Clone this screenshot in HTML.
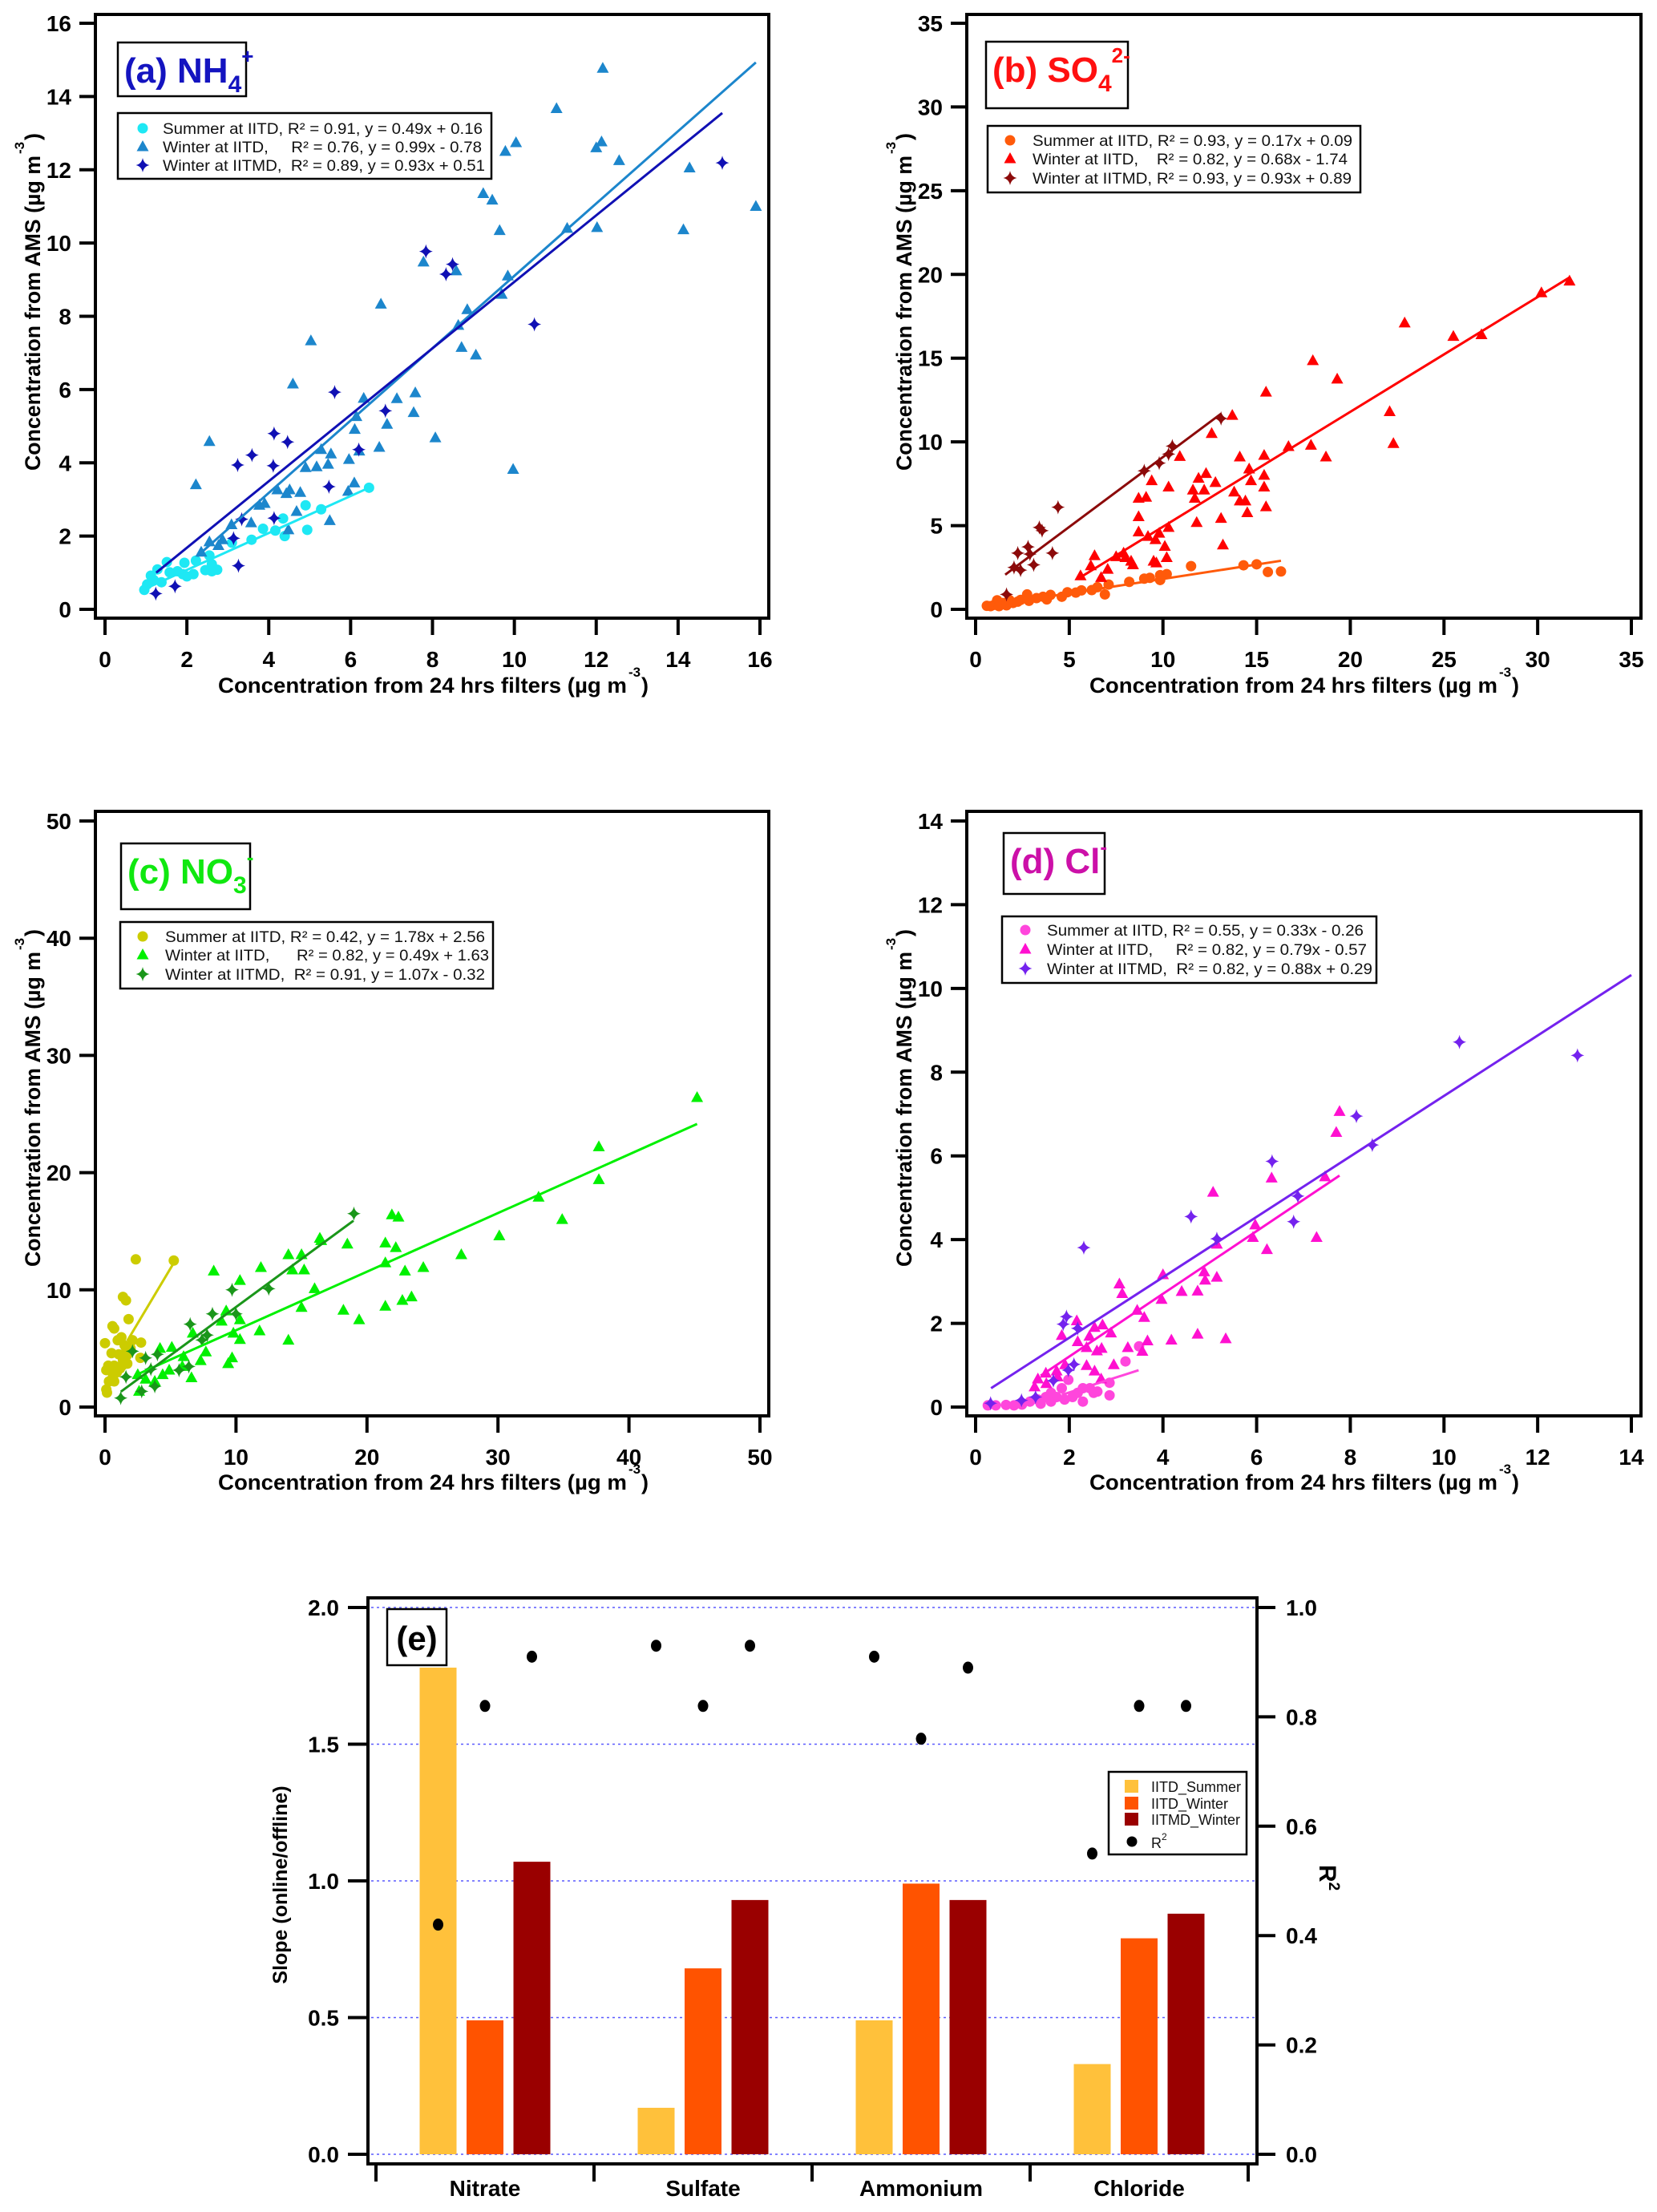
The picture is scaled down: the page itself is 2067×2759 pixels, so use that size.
<!DOCTYPE html>
<html><head><meta charset="utf-8"><title>AMS vs filter comparison</title>
<style>
html,body{margin:0;padding:0;background:#fff;}
svg{display:block;font-family:"Liberation Sans",Arial,sans-serif;}
</style></head>
<body>
<svg id="fig" width="2067" height="2759" viewBox="0 0 2067 2759" xmlns="http://www.w3.org/2000/svg">
<rect x="0" y="0" width="2067" height="2759" fill="#fff"/>
</svg>
<script>
// ---------- Panel (a) NH4 data ----------
const nh4SumX=[6.45,5.28,4.9,4.94,4.35,4.39,4.16,3.86,3.58,3.1,2.74,2.61,2.55,2.22,2.16,1.94,1.9,1.77,1.58,1.51,1.28,1.19,1.12,1.03,0.96,1.38,2.0,2.45,2.61];
const nh4SumY=[3.32,2.73,2.84,2.17,2.48,2.0,2.15,2.2,1.9,1.82,1.08,1.23,1.47,1.33,0.96,1.27,0.96,1.04,1.01,1.29,1.09,0.8,0.92,0.68,0.53,0.74,0.9,1.07,1.04];
const nh4WinX=[12.16,11.03,15.9,12.56,12.13,12.0,10.04,9.78,14.28,14.13,12.02,11.29,9.24,9.46,9.64,9.84,9.69,7.78,8.58,8.85,8.63,8.71,9.06,9.97,6.74,5.03,4.59,7.58,7.13,6.32,7.54,6.14,6.10,6.89,8.07,6.70,6.21,5.28,5.52,5.96,5.17,5.45,4.9,2.55,2.22,6.09,5.94,4.51,4.21,4.43,4.77,3.9,3.77,4.68,5.49,3.57,3.09,4.48,2.87,2.55,2.77,2.35];
const nh4WinY=[14.77,13.67,11.0,12.25,12.76,12.6,12.74,12.5,12.05,10.36,10.42,10.4,11.35,11.17,10.34,9.1,8.6,9.48,9.24,8.18,7.75,7.15,6.94,3.82,8.33,7.33,6.15,5.91,5.75,5.76,5.37,5.26,4.91,5.05,4.68,4.42,4.32,4.36,4.24,4.09,3.89,3.96,3.87,4.58,3.4,3.45,3.22,3.26,3.26,3.16,3.19,2.89,2.84,2.67,2.42,2.36,2.31,2.17,1.9,1.84,1.74,1.56];
const nh4MdX=[15.08,7.84,8.33,8.49,10.49,5.61,6.85,6.2,4.13,4.46,3.59,3.24,4.11,5.47,3.34,4.13,3.14,3.26,1.71,1.24];
const nh4MdY=[12.19,9.77,9.15,9.42,7.78,5.93,5.42,4.36,4.8,4.57,4.21,3.94,3.92,3.35,2.46,2.49,1.94,1.19,0.63,0.43];
const nh4FitX0=[0.96,2.25,1.25];
const nh4FitY0=[0.55,1.45,1.0];
const nh4FitX1=[6.45,15.9,15.08];
const nh4FitY1=[3.32,14.93,13.55];

// ---------- Panel (b) SO4 data ----------
const so4SumX=[16.3,15.6,15.0,14.3,11.5,10.2,9.85,9.85,9.3,9.0,8.2,7.1,6.9,6.5,6.2,5.65,5.35,4.9,4.6,4.0,3.8,3.6,3.25,2.75,2.85,2.4,2.25,2.0,1.8,1.45,1.15,1.0,0.8,0.6,1.25,1.65];
const so4SumY=[2.26,2.23,2.69,2.63,2.58,2.1,2.04,1.75,1.88,1.83,1.64,1.48,0.89,1.32,1.15,1.13,1.0,1.02,0.75,0.86,0.59,0.75,0.67,0.89,0.51,0.56,0.46,0.38,0.56,0.38,0.54,0.27,0.19,0.21,0.19,0.24];
const so4WinX=[31.7,30.2,22.9,25.5,27.0,18.0,19.3,15.5,22.1,22.3,16.7,17.9,18.7,13.7,12.6,10.9,14.1,15.4,14.6,15.4,12.3,11.9,12.8,11.6,12.2,14.7,15.4,10.3,9.4,11.7,13.8,14.1,14.4,8.7,9.1,15.5,14.5,13.1,8.7,11.8,10.3,8.7,9.8,9.2,9.6,10.1,13.2,7.9,7.5,6.35,8.0,8.3,8.4,9.5,10.2,9.65,6.15,7.05,6.7,5.6];
const so4WinY=[19.6,18.9,17.1,16.3,16.4,14.85,13.75,12.97,11.8,9.9,9.72,9.8,9.1,11.58,10.5,9.13,9.1,9.19,8.38,8.0,8.11,7.82,7.57,7.12,7.12,7.68,7.3,7.3,7.68,6.63,7.0,6.47,6.47,6.63,6.69,6.12,5.77,5.43,5.53,5.18,4.89,4.62,4.54,4.35,4.16,3.76,3.84,3.36,3.14,3.2,3.09,2.87,2.66,2.87,3.09,2.77,2.6,2.39,1.9,2.0];
const so4MdX=[13.1,10.5,10.3,9.8,9.0,4.4,3.4,3.55,2.8,2.9,2.25,4.1,3.1,2.05,2.4,1.65];
const so4MdY=[11.4,9.75,9.27,8.73,8.27,6.1,4.89,4.7,3.73,3.3,3.36,3.36,2.66,2.5,2.34,0.89];
const so4FitX0=[0.56,5.62,1.58];
const so4FitY0=[0.19,1.93,2.07];
const so4FitX1=[16.3,31.7,13.1];
const so4FitY1=[2.9,19.82,11.68];

// ---------- Panel (c) NO3 data ----------
const no3SumX=[2.35,5.25,1.37,1.6,1.8,0.57,0.7,0.0,1.25,0.97,2.1,2.75,0.5,1.05,1.7,1.5,1.37,2.7,0.25,0.7,1.3,1.7,0.1,0.5,0.9,1.15,0.6,0.3,0.7,0.1,0.15,1.6,1.95];
const no3SumY=[12.6,12.5,9.4,9.1,7.5,6.9,6.7,5.45,5.95,5.7,5.7,5.5,4.6,4.5,4.45,5.26,4.0,4.2,3.53,3.53,3.53,3.7,3.15,3.07,2.96,3.3,2.57,2.19,2.19,1.5,1.23,4.7,5.0];
const no3WinX=[45.2,37.7,37.7,33.1,34.9,30.1,27.2,21.9,22.4,21.4,22.2,21.4,22.9,24.3,23.4,22.7,21.4,19.4,18.2,18.5,16.4,16.5,14.0,15.0,14.3,15.2,16.0,15.0,11.9,8.3,10.3,10.3,10.3,11.8,14.0,9.8,8.9,9.25,9.7,9.4,7.7,7.3,6.7,6.6,6.0,5.1,5.9,4.9,4.2,4.4,3.8,3.1,2.6,2.5];
const no3WinY=[26.4,22.2,19.4,17.9,16.0,14.6,13.0,16.4,16.2,14.0,13.6,12.3,11.6,11.9,9.4,9.1,8.6,7.45,8.26,13.9,14.4,14.2,13.0,13.0,11.7,11.7,10.1,8.5,11.9,11.6,10.8,7.45,5.76,6.5,5.7,6.3,7.33,8.2,4.2,3.7,4.7,3.96,6.3,2.5,4.3,5.1,3.46,3.15,5.0,2.76,2.19,2.38,1.34,2.76];
const no3MdX=[19.0,12.5,9.7,10.0,8.2,6.5,7.8,7.4,6.4,5.65,4.0,3.1,3.5,2.1,1.6,3.8,2.8,1.2];
const no3MdY=[16.5,10.1,10.0,7.95,7.95,7.07,6.14,5.72,3.46,3.15,4.5,4.19,3.23,4.76,2.57,1.77,1.34,0.77];
const no3FitX0=[1.7,2.42,1.21];
const no3FitY0=[5.65,2.76,1.31];
const no3FitX1=[5.25,45.2,18.97];
const no3FitY1=[12.3,24.15,15.9];

// ---------- Panel (d) Cl data ----------
const clSumX=[3.2,3.49,2.86,2.86,2.6,2.44,2.29,2.18,2.07,1.98,1.84,1.73,1.61,1.5,1.39,1.33,1.16,0.99,0.82,0.65,0.43,0.26,2.29,2.52,1.61,1.9];
const clSumY=[1.09,1.45,0.58,0.28,0.37,0.45,0.13,0.34,0.24,0.65,0.45,0.24,0.13,0.24,0.08,0.18,0.13,0.06,0.04,0.05,0.04,0.04,0.45,0.34,0.34,0.18];
const clWinX=[7.77,7.7,7.46,6.32,5.07,5.97,5.92,6.22,7.28,5.15,4.0,4.88,4.9,5.15,3.07,3.13,4.4,4.74,3.97,3.45,3.6,2.71,2.54,2.89,2.16,4.74,5.34,4.18,3.67,1.84,2.18,2.43,2.69,2.59,2.37,3.25,3.56,2.95,2.54,1.91,1.73,1.5,1.33,1.26,1.51,2.68,1.75,2.37];
const clWinY=[7.06,6.56,5.5,5.47,5.13,4.35,4.05,3.76,4.05,3.89,3.16,3.23,3.03,3.1,2.94,2.71,2.76,2.77,2.57,2.31,2.14,1.96,1.9,1.77,2.06,1.74,1.63,1.6,1.58,1.71,1.56,1.69,1.4,1.34,1.42,1.42,1.33,1.01,0.86,1.01,0.86,0.81,0.67,0.48,0.56,0.67,0.72,0.99];
const clMdX=[10.33,12.85,8.13,8.47,6.33,6.88,6.79,4.6,5.15,2.31,1.94,1.87,2.18,2.1,1.98,1.66,1.28,0.98,0.32];
const clMdY=[8.72,8.4,6.95,6.26,5.87,5.04,4.43,4.55,4.02,3.81,2.16,1.98,1.88,1.02,0.88,0.63,0.24,0.16,0.09];
const clFitX0=[1.84,1.39,0.33];
const clFitY0=[0.29,0.75,0.45];
const clFitX1=[3.48,7.77,14.0];
const clFitY1=[0.88,5.53,10.32];

// ---------- Panel (e) data ----------
const ionCategories=['Nitrate','Sulfate','Ammonium','Chloride'];
const slopeSummer=[1.78,0.17,0.49,0.33];
const slopeWinter=[0.49,0.68,0.99,0.79];
const slopeMdWinter=[1.07,0.93,0.93,0.88];
const r2Summer=[0.42,0.93,0.91,0.55];
const r2Winter=[0.82,0.82,0.76,0.82];
const r2MdWinter=[0.91,0.93,0.89,0.82];
const slopeTicks=['0.0','0.5','1.0','1.5','2.0'];
const r2Ticks=['0.0','0.2','0.4','0.6','0.8','1.0'];

const NS='http://www.w3.org/2000/svg';
const svg=document.getElementById('fig');
function mk(tag,attrs,parent){const e=document.createElementNS(NS,tag);for(const k in attrs)e.setAttribute(k,attrs[k]);(parent||svg).appendChild(e);return e;}
function marker(shape,cx,cy,color,parent){
  let el;
  if(shape==='circle'){el=mk('circle',{cx:cx,cy:cy,r:6.5,fill:color},parent);}
  else if(shape==='tri'){el=mk('polygon',{points:(cx)+','+(cy-8)+' '+(cx+7.5)+','+(cy+5.5)+' '+(cx-7.5)+','+(cy+5.5),fill:color},parent);}
  else {el=mk('path',{d:'M'+cx+','+(cy-9)+' Q'+(cx+1.5)+','+(cy-1.5)+' '+(cx+8.5)+','+cy+' Q'+(cx+1.5)+','+(cy+1.5)+' '+cx+','+(cy+9)+' Q'+(cx-1.5)+','+(cy+1.5)+' '+(cx-8.5)+','+cy+' Q'+(cx-1.5)+','+(cy-1.5)+' '+cx+','+(cy-9)+'Z',fill:color},parent);}
  return el;
}

const panels=[
 {id:'a',fx0:119,fy0:18,fx1:959,fy1:771,xp0:131,xp1:948,xmax:16,xstep:2,yp0:760,yp1:29,ymax:16,ystep:2,
  sx:[nh4SumX,nh4WinX,nh4MdX],sy:[nh4SumY,nh4WinY,nh4MdY],fx0d:nh4FitX0,fy0d:nh4FitY0,fx1d:nh4FitX1,fy1d:nh4FitY1,
  colors:['#1ee8f4','#1c86cc','#1010b4'],labColor:'#1414c0',lab:['(a) NH','4','+'],
  box:[147,53,160,67],leg:[147,141,466,82],mk:178,tx:203,rows:[167,190,213],
  legTxt:['Summer at IITD, R² = 0.91, y = 0.49x + 0.16','Winter at IITD,     R² = 0.76, y = 0.99x - 0.78','Winter at IITMD,  R² = 0.89, y = 0.93x + 0.51'],
  legW:[399,398,402],ytx:50,yty:587,xt0:272,xt1:782,xtb:864,name:'ammonium'},
 {id:'b',fx0:1206,fy0:18,fx1:2047,fy1:771,xp0:1217,xp1:2035,xmax:35,xstep:5,yp0:760,yp1:29,ymax:35,ystep:5,
  sx:[so4SumX,so4WinX,so4MdX],sy:[so4SumY,so4WinY,so4MdY],fx0d:so4FitX0,fy0d:so4FitY0,fx1d:so4FitX1,fy1d:so4FitY1,
  colors:['#ff5a0a','#ff0000','#8c0a0a'],labColor:'#ff1010',lab:['(b) SO','4','2-'],
  box:[1230,52,177,83],leg:[1232,157,465,83],mk:1260,tx:1288,rows:[182,205,229],
  legTxt:['Summer at IITD, R² = 0.93, y = 0.17x + 0.09','Winter at IITD,    R² = 0.82, y = 0.68x - 1.74','Winter at IITMD, R² = 0.93, y = 0.93x + 0.89'],
  legW:[399,393,398],ytx:1137,yty:587,xt0:1359,xt1:1868,xtb:864,name:'sulfate'},
 {id:'c',fx0:119,fy0:1012,fx1:959,fy1:1766,xp0:131,xp1:948,xmax:50,xstep:10,yp0:1755,yp1:1024,ymax:50,ystep:10,
  sx:[no3SumX,no3WinX,no3MdX],sy:[no3SumY,no3WinY,no3MdY],fx0d:no3FitX0,fy0d:no3FitY0,fx1d:no3FitX1,fy1d:no3FitY1,
  colors:['#cccc00','#00f000','#1a961a'],labColor:'#10e810',lab:['(c) NO','3','-'],
  box:[151,1052,161,82],leg:[150,1150,465,83],mk:178,tx:206,rows:[1175,1198,1222],
  legTxt:['Summer at IITD, R² = 0.42, y = 1.78x + 2.56','Winter at IITD,      R² = 0.82, y = 0.49x + 1.63','Winter at IITMD,  R² = 0.91, y = 1.07x - 0.32'],
  legW:[399,404,399],ytx:50,yty:1580,xt0:272,xt1:782,xtb:1858,name:'nitrate'},
 {id:'d',fx0:1206,fy0:1012,fx1:2047,fy1:1766,xp0:1217,xp1:2035,xmax:14,xstep:2,yp0:1755,yp1:1024,ymax:14,ystep:2,
  sx:[clSumX,clWinX,clMdX],sy:[clSumY,clWinY,clMdY],fx0d:clFitX0,fy0d:clFitY0,fx1d:clFitX1,fy1d:clFitY1,
  colors:['#ff46dc','#ff10d0','#7422ee'],labColor:'#cc10a8',lab:['(d) Cl','','-'],
  box:[1252,1039,126,76],leg:[1250,1143,467,83],mk:1279,tx:1306,rows:[1167,1191,1215],
  legTxt:['Summer at IITD, R² = 0.55, y = 0.33x - 0.26','Winter at IITD,     R² = 0.82, y = 0.79x - 0.57','Winter at IITMD,  R² = 0.82, y = 0.88x + 0.29'],
  legW:[395,399,406],ytx:1137,yty:1580,xt0:1359,xt1:1868,xtb:1858,name:'chloride'}
];
const shapes=['circle','tri','diamond'];
const seriesNames=['summer-iitd','winter-iitd','winter-iitmd'];

panels.forEach(p=>{
  const g=mk('g',{});
  
  
  const X=v=>p.xp0+v*(p.xp1-p.xp0)/p.xmax;
  const Y=v=>p.yp0+v*(p.yp1-p.yp0)/p.ymax;
  const fr=mk('rect',{x:p.fx0,y:p.fy0,width:p.fx1-p.fx0,height:p.fy1-p.fy0,fill:'none',stroke:'#000','stroke-width':4},g);
  
  
  for(let v=0;v<=p.ymax+1e-9;v+=p.ystep){
    const t=mk('line',{x1:p.fx0-20,x2:p.fx0,y1:Y(v),y2:Y(v),stroke:'#000','stroke-width':4},g);
    
    
    const l=mk('text',{x:p.fx0-30,y:Y(v)+10,'text-anchor':'end','font-size':28,'font-weight':'bold'},g);
    l.textContent=String(v);
    
    
  }
  for(let v=0;v<=p.xmax+1e-9;v+=p.xstep){
    const t=mk('line',{x1:X(v),x2:X(v),y1:p.fy1,y2:p.fy1+21,stroke:'#000','stroke-width':4},g);
    
    
    const l=mk('text',{x:X(v),y:p.fy1+61,'text-anchor':'middle','font-size':28,'font-weight':'bold'},g);
    l.textContent=String(v);
    
    
  }
  const xt=mk('text',{x:p.xt0,y:p.xtb,'font-size':27,'font-weight':'bold',textLength:p.xt1-p.xt0,lengthAdjust:'spacingAndGlyphs'},g);
  xt.textContent='Concentration from 24 hrs filters (µg m';
  
  
  const xs=mk('text',{x:p.xt1+2,y:p.xtb-20,'font-size':17,'font-weight':'bold'},g);
  xs.textContent='-3';
  
  
  const xp=mk('text',{x:p.xt1+18,y:p.xtb,'font-size':27,'font-weight':'bold'},g);
  xp.textContent=')';
  
  
  const yt=mk('text',{x:0,y:0,transform:'translate('+p.ytx+','+p.yty+') rotate(-90)','font-size':27,'font-weight':'bold',textLength:393,lengthAdjust:'spacingAndGlyphs'},g);
  yt.textContent='Concentration from AMS (µg m';
  
  
  const ys=mk('text',{x:0,y:0,transform:'translate('+(p.ytx-20)+','+(p.yty-395)+') rotate(-90)','font-size':17,'font-weight':'bold'},g);
  ys.textContent='-3';
  
  
  const yp=mk('text',{x:0,y:0,transform:'translate('+p.ytx+','+(p.yty-412)+') rotate(-90)','font-size':27,'font-weight':'bold'},g);
  yp.textContent=')';
  
  
  for(let s=0;s<3;s++){
    const sg=mk('g',{},g);
    
    
    const xsArr=p.sx[s], ysArr=p.sy[s];
    for(let i=0;i<xsArr.length;i++){
      const m=marker(shapes[s],X(xsArr[i]),Y(ysArr[i]),p.colors[s],sg);
      
      
    }
  }
  for(let s=0;s<3;s++){
    const ln=mk('line',{x1:X(p.fx0d[s]),y1:Y(p.fy0d[s]),x2:X(p.fx1d[s]),y2:Y(p.fy1d[s]),stroke:p.colors[s],'stroke-width':3},g);
    
    
  }
  const lb=mk('rect',{x:p.box[0],y:p.box[1],width:p.box[2],height:p.box[3],fill:'#fff',stroke:'#000','stroke-width':2.5},g);
  
  
  const lt=mk('text',{x:p.box[0]+8,y:p.box[1]+50,'font-size':44,'font-weight':'bold',fill:p.labColor},g);
  
  
  const t1=mk('tspan',{},lt);t1.textContent=p.lab[0];
  if(p.lab[1]){const t2=mk('tspan',{dy:12,'font-size':30},lt);t2.textContent=p.lab[1];}
  const t3=mk('tspan',{dy:p.lab[1]?-36:-24,'font-size':26},lt);t3.textContent=p.lab[2];
  const lgg=mk('g',{},g);
  
  
  mk('rect',{x:p.leg[0],y:p.leg[1],width:p.leg[2],height:p.leg[3],fill:'#fff',stroke:'#000','stroke-width':2.5},lgg);
  for(let s=0;s<3;s++){
    const mm=marker(shapes[s],p.mk,p.rows[s]-7,p.colors[s],lgg);
    
    
    const tt=mk('text',{x:p.tx,y:p.rows[s],'font-size':19.5,fill:'#111',textLength:p.legW[s],lengthAdjust:'spacingAndGlyphs','xml:space':'preserve'},lgg);
    tt.style.whiteSpace='pre';
    tt.textContent=p.legTxt[s];
    
    
  }
});

// ---------- Panel (e) ----------
(function(){
  const fx0=459,fx1=1568,fy0=1993,fy1=2699;
  const yp0=2687,yp2=2005;
  const YL=v=>yp0+v*(yp2-yp0)/2;
  const YR=v=>yp0+v*(yp2-yp0)/1;
  const catW=272,cat0=469;
  const CX=i=>cat0+catW*(i+0.5);
  const g=mk('g',{});
  
  
  slopeTicks.forEach(t=>{
    const v=parseFloat(t);
    const gl=mk('line',{x1:fx0+4,x2:fx1-2,y1:YL(v),y2:YL(v),stroke:'#5a5aff','stroke-width':1.5,'stroke-dasharray':'3,4'},g);
    
    
  });
  const barSets=[slopeSummer,slopeWinter,slopeMdWinter];
  const barCols=['#ffc13b','#ff5300','#9a0000'];
  const barNames=['iitd-summer','iitd-winter','iitmd-winter'];
  const r2Sets=[r2Summer,r2Winter,r2MdWinter];
  for(let i=0;i<ionCategories.length;i++){
    for(let s=0;s<3;s++){
      const cx=CX(i)+(s-1)*58.5;
      const v=barSets[s][i];
      const b=mk('rect',{x:cx-23,y:YL(v),width:46,height:YL(0)-YL(v),fill:barCols[s]},g);
      
      
    }
  }
  for(let i=0;i<ionCategories.length;i++){
    for(let s=0;s<3;s++){
      const cx=CX(i)+(s-1)*58.5;
      const d=mk('ellipse',{cx:cx,cy:YR(r2Sets[s][i]),rx:6.5,ry:7.5,fill:'#000'},g);
      
      
    }
  }
  const fr=mk('rect',{x:fx0,y:fy0,width:fx1-fx0,height:fy1-fy0,fill:'none',stroke:'#000','stroke-width':4},g);
  
  
  slopeTicks.forEach(t=>{
    const v=parseFloat(t);
    const tk=mk('line',{x1:fx0-25,x2:fx0,y1:YL(v),y2:YL(v),stroke:'#000','stroke-width':4},g);
    
    
    const l=mk('text',{x:423,y:YL(v)+10,'text-anchor':'end','font-size':28,'font-weight':'bold'},g);
    l.textContent=t;
    
    
  });
  r2Ticks.forEach(t=>{
    const v=parseFloat(t);
    const tk=mk('line',{x1:fx1,x2:fx1+23,y1:YR(v),y2:YR(v),stroke:'#000','stroke-width':4},g);
    
    
    const l=mk('text',{x:1604,y:YR(v)+10,'font-size':28,'font-weight':'bold'},g);
    l.textContent=t;
    
    
  });
  for(let i=0;i<=ionCategories.length;i++){
    const tk=mk('line',{x1:cat0+catW*i,x2:cat0+catW*i,y1:fy1,y2:2721,stroke:'#000','stroke-width':4},g);
    
    
  }
  ionCategories.forEach((c,i)=>{
    const l=mk('text',{x:CX(i),y:2739,'text-anchor':'middle','font-size':28,'font-weight':'bold'},g);
    l.textContent=c;
    
    
  });
  const ytl=mk('text',{x:0,y:0,transform:'translate(358,2351) rotate(-90)','text-anchor':'middle','font-size':25,'font-weight':'bold'},g);
  ytl.textContent='Slope (online/offline)';
  
  
  const ytr=mk('text',{x:0,y:0,transform:'translate(1646,2326) rotate(90)','font-size':30,'font-weight':'bold'},g);
  
  
  const r1=mk('tspan',{},ytr);r1.textContent='R';
  const r2=mk('tspan',{dy:-12,'font-size':19},ytr);r2.textContent='2';
  const lb=mk('rect',{x:483,y:2007,width:74,height:70,fill:'#fff',stroke:'#000','stroke-width':2.5},g);
  
  
  const lt=mk('text',{x:520,y:2058,'text-anchor':'middle','font-size':42,'font-weight':'bold'},g);
  lt.textContent='(e)';
  
  
  const lg=mk('g',{},g);
  
  
  mk('rect',{x:1383,y:2210,width:172,height:103,fill:'#fff',stroke:'#000','stroke-width':2.5},lg);
  const legLabels=['IITD_Summer','IITD_Winter','IITMD_Winter'];
  const legRows=[2228,2249,2269];
  for(let s=0;s<3;s++){
    const sq=mk('rect',{x:1403,y:legRows[s]-8,width:17,height:16,fill:barCols[s]},lg);
    
    
    const t=mk('text',{x:1436,y:legRows[s]+7,'font-size':18,fill:'#111'},lg);
    t.textContent=legLabels[s];
    
    
  }
  const dd=mk('circle',{cx:1412,cy:2297,r:6.5,fill:'#000'},lg);
  
  
  const rt=mk('text',{x:1436,y:2305,'font-size':18,fill:'#111'},lg);
  
  
  const q1=mk('tspan',{},rt);q1.textContent='R';
  const q2=mk('tspan',{dy:-10,'font-size':12},rt);q2.textContent='2';
})();
</script>
</body></html>
